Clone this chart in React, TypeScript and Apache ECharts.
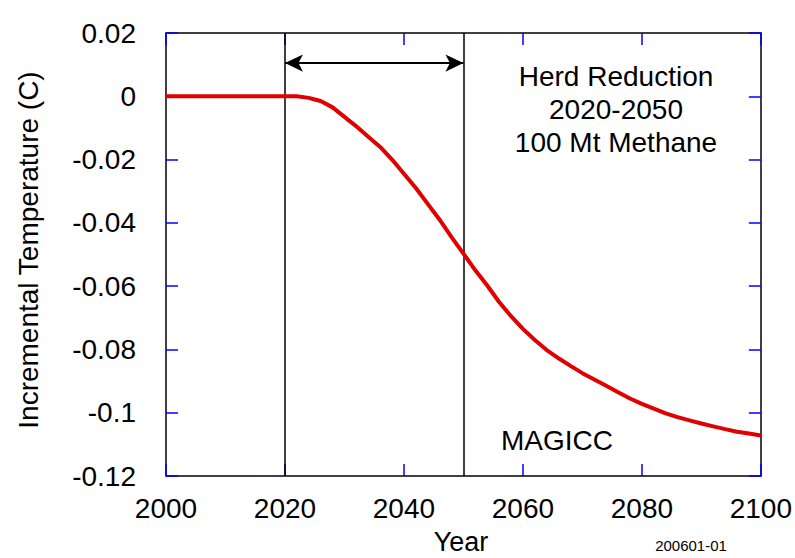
import React, { useEffect, useRef } from "react";
import * as echarts from "echarts";

const years = [2000, 2022, 2024, 2025, 2026, 2028, 2030, 2032, 2034, 2036, 2038, 2040, 2042, 2044, 2046, 2048, 2050, 2052, 2054, 2056, 2058, 2060, 2062, 2064, 2066, 2068, 2070, 2072, 2074, 2076, 2078, 2080, 2082, 2084, 2086, 2088, 2090, 2092, 2094, 2096, 2098, 2100];
const temps = [0, 0, -0.0005, -0.001, -0.0015, -0.0035, -0.0065, -0.0095, -0.0128, -0.016, -0.02, -0.0245, -0.029, -0.034, -0.039, -0.0445, -0.0497, -0.055, -0.0598, -0.065, -0.0695, -0.0735, -0.077, -0.0802, -0.0828, -0.0852, -0.0875, -0.0895, -0.0915, -0.0935, -0.0955, -0.0972, -0.0987, -0.1002, -0.1014, -0.1024, -0.1034, -0.1043, -0.1052, -0.106, -0.1066, -0.1072];

const periodStart = 2020;
const periodEnd = 2050;
const arrowLevel = 0.0105;
const annotationLines = ["Herd Reduction", "2020-2050", "100 Mt Methane"];
const modelLabel = "MAGICC";
const xTitle = "Year";
const yTitle = "Incremental Temperature (C)";
const figureCode = "200601-01";

const FONT = "'Liberation Sans', Arial, Helvetica, sans-serif";

export default function App() {
  const ref = useRef<HTMLDivElement>(null);
  useEffect(() => {
    const chart = echarts.init(ref.current!, null, { renderer: "svg" });
    const fmt = (v: number) => String(parseFloat(Number(v).toFixed(4)));
    const tickStyle = { show: true, inside: true, length: 12, lineStyle: { color: "#0000ff", width: 1.5 } };
    const axisLine = { show: true, onZero: false, lineStyle: { color: "#000", width: 1.5 } };
    chart.setOption({
      animation: false,
      backgroundColor: "#fff",
      grid: { left: 166, top: 33, width: 595, height: 443 },
      xAxis: [
        {
          type: "value", min: 2000, max: 2100, interval: 20, position: "bottom",
          axisLine, axisTick: tickStyle, splitLine: { show: false },
          axisLabel: { margin: 18, fontSize: 28, color: "#000", fontFamily: FONT, formatter: (v: number) => String(v) },
        },
        {
          type: "value", min: 2000, max: 2100, interval: 20, position: "top",
          axisLine, axisTick: tickStyle, splitLine: { show: false }, axisLabel: { show: false },
        },
      ],
      yAxis: [
        {
          type: "value", min: -0.12, max: 0.02, interval: 0.02, position: "left",
          axisLine, axisTick: tickStyle, splitLine: { show: false },
          axisLabel: { margin: 30, fontSize: 28, color: "#000", fontFamily: FONT, formatter: fmt, padding: [0, 0, 12, 0] },
        },
        {
          type: "value", min: -0.12, max: 0.02, interval: 0.02, position: "right",
          axisLine, axisTick: tickStyle, splitLine: { show: false }, axisLabel: { show: false },
        },
      ],
      series: [
        {
          type: "line",
          data: years.map((y, i) => [y, temps[i]]),
          showSymbol: false,
          lineStyle: { color: "#e00000", width: 4 },
          z: 5,
          markLine: {
            silent: true,
            symbol: "none",
            label: { show: false },
            lineStyle: { color: "#000", width: 1.5, type: "solid" },
            data: [{ xAxis: periodStart }, { xAxis: periodEnd }],
          },
        },
        {
          type: "line",
          data: [],
          markLine: {
            silent: true,
            symbol: ["arrow", "arrow"],
            symbolSize: [13, 18],
            label: { show: false },
            lineStyle: { color: "#000", width: 2, type: "solid" },
            itemStyle: { color: "#000" },
            data: [[{ coord: [periodStart, arrowLevel] }, { coord: [periodEnd, arrowLevel] }]],
          },
        },
      ],
      graphic: [
        ...annotationLines.map((t, i) => ({
          type: "text", x: 616, y: 76 + i * 33,
          style: { text: t, fontSize: 28, fontFamily: FONT, fill: "#000", align: "center", verticalAlign: "middle" },
        })),
        {
          type: "text", x: 557, y: 440,
          style: { text: modelLabel, fontSize: 28, fontFamily: FONT, fill: "#000", align: "center", verticalAlign: "middle" },
        },
        {
          type: "text", x: 461, y: 542,
          style: { text: xTitle, fontSize: 27, fontFamily: FONT, fill: "#000", align: "center", verticalAlign: "middle" },
        },
        {
          type: "text", x: 28, y: 250, rotation: Math.PI / 2,
          style: { text: yTitle, fontSize: 28, fontFamily: FONT, fill: "#000", align: "center", verticalAlign: "middle" },
        },
        {
          type: "text", x: 691, y: 545,
          style: { text: figureCode, fontSize: 15, fontFamily: FONT, fill: "#000", align: "center", verticalAlign: "middle" },
        },
      ],
    });
    return () => chart.dispose();
  }, []);
  return <div ref={ref} style={{ position: "fixed", left: 0, top: 0, width: 795, height: 558 }} />;
}
